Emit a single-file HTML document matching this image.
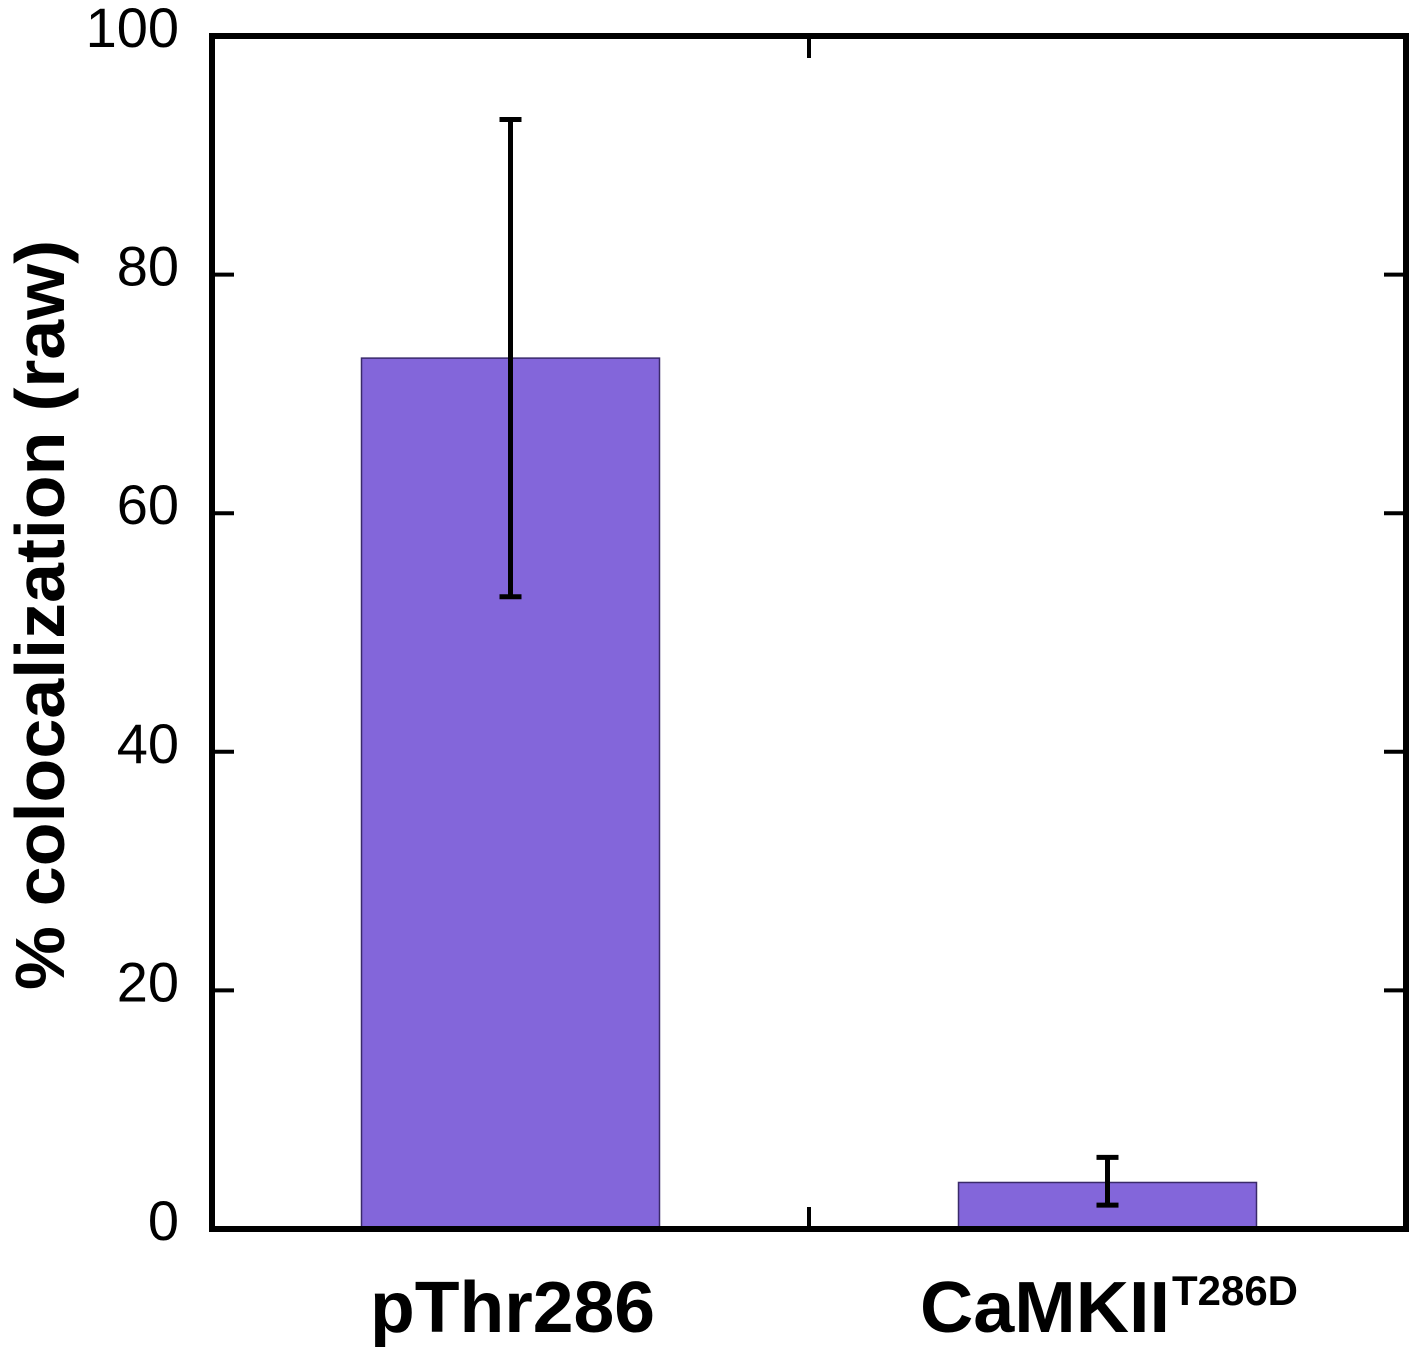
<!DOCTYPE html>
<html><head><meta charset="utf-8"><style>
body{margin:0;background:#fff}
svg{display:block;font-family:"Liberation Sans",Arial,sans-serif}
</style></head><body>
<svg id="chart" width="1415" height="1354" viewBox="0 0 1415 1354"></svg>
<script>
const categories=["pThr286","CaMKII"];
const values=[73,3.9];
const errLow=[53,2];
const errHigh=[93,6];
const yTicks=[0,20,40,60,80,100];
const NS="http://www.w3.org/2000/svg";
const svg=document.getElementById('chart');
const L=212,R=1406,T=36,B=1229;
function y(v){return B-(v/100)*(B-T);}
function xc(i){return L+(R-L)*(i+0.5)/categories.length;}
function el(tag,attrs,text){const e=document.createElementNS(NS,tag);for(const k in attrs)e.setAttribute(k,attrs[k]);if(text!==undefined)e.textContent=text;svg.appendChild(e);return e;}
const bw=298;
categories.forEach((c,i)=>{
 const b=el('rect',{x:xc(i)-bw/2,y:y(values[i]),width:bw,height:B-y(values[i]),fill:'#8366da',stroke:'#3a2a6a','stroke-width':1.5});
 
 
 const g=el('path',{d:`M${xc(i)} ${y(errHigh[i])}V${y(errLow[i])}M${xc(i)-11} ${y(errHigh[i])}H${xc(i)+11}M${xc(i)-11} ${y(errLow[i])}H${xc(i)+11}`,stroke:'#000','stroke-width':5,fill:'none'});
 
 
});
yTicks.forEach(t=>{
 const p=el('path',{d:`M${L} ${y(t)}H${L+22}M${R} ${y(t)}H${R-22}`,stroke:'#000','stroke-width':4});
 
 
 const tx=el('text',{x:179,y:y(t)+11,'text-anchor':'end','font-size':56},t);
 
 
});
const mid=(L+R)/2;
el('path',{d:`M${mid} ${T}V${T+22}M${mid} ${B}V${B-22}`,stroke:'#000','stroke-width':4,});
el('rect',{x:L,y:T,width:R-L,height:B-T,fill:'none',stroke:'#000','stroke-width':6,});
</script>
<svg style="position:absolute;left:0;top:0" width="1415" height="1354">
<text x="370" y="1332" textLength="285" lengthAdjust="spacingAndGlyphs" font-family="Liberation Sans,sans-serif" font-weight="bold" font-size="72">pThr286</text>
<text x="920" y="1332" textLength="250" lengthAdjust="spacingAndGlyphs" font-family="Liberation Sans,sans-serif" font-weight="bold" font-size="72">CaMKII</text>
<text x="1172" y="1305" textLength="126" lengthAdjust="spacingAndGlyphs" font-family="Liberation Sans,sans-serif" font-weight="bold" font-size="42">T286D</text>
<text transform="translate(64,615) rotate(-90)" text-anchor="middle" textLength="750" lengthAdjust="spacingAndGlyphs" font-family="Liberation Sans,sans-serif" font-weight="bold" font-size="70">% colocalization (raw)</text>
</svg>
</body></html>
